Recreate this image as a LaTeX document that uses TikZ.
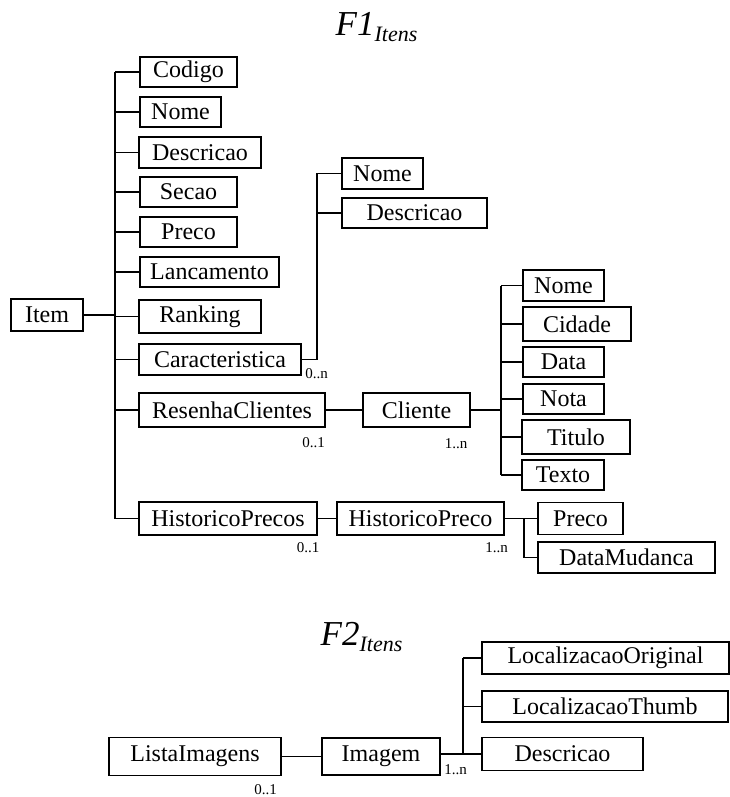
\documentclass[tikz,border=0pt]{standalone}
\usepackage{fontspec}
\setmainfont{Liberation Serif}
\begin{document}
\begin{tikzpicture}[x=1pt,y=-1pt,
  box/.style={draw, line width=1.5pt, inner sep=0pt, font=\fontsize{24}{28}\selectfont},
  card/.style={inner sep=0pt, font=\fontsize{15}{17}\selectfont},
  link/.style={line width=1.5pt},
  title/.style={inner sep=0pt, anchor=base, font=\fontsize{35}{40}\selectfont\itshape}]
\useasboundingbox (0,0) rectangle (730,797);

% name, centre x, centre y, width, height, text
\newcommand\attrbox[6]{\node[box, minimum width=#4pt, minimum height=#5pt] (#1) at (#2,#3) {#6};}

% ---------- F1 ----------
\node[title] (f1) at (376.5,36) {F1\raisebox{-6pt}{\fontsize{22}{24}\selectfont Itens}};

\attrbox{item}{47}{315}{72}{32}{Item}
\attrbox{codigo}{188.5}{72}{97}{30}{Codigo}
\attrbox{nome}{180.5}{112}{81}{30}{Nome}
\attrbox{descr}{200}{152.5}{122}{31}{Descricao}
\attrbox{secao}{188.5}{192}{97}{30}{Secao}
\attrbox{preco}{188.5}{232}{97}{30}{Preco}
\attrbox{lanc}{209.5}{272}{139}{30}{Lancamento}
\attrbox{rank}{200}{316.5}{122}{33}{Ranking}
\attrbox{carac}{220}{359.5}{162}{31}{Caracteristica}
\attrbox{resenha}{232}{410}{186}{34}{ResenhaClientes}
\attrbox{histps}{228}{518.5}{178}{33}{HistoricoPrecos}

\attrbox{cnome}{382.5}{173.5}{81}{31}{Nome}
\attrbox{cdescr}{414.5}{213}{145}{30}{Descricao}

\attrbox{cliente}{416.5}{410}{107}{34}{Cliente}
\attrbox{rnome}{563.5}{285.5}{81}{31}{Nome}
\attrbox{cidade}{577}{324}{108}{34}{Cidade}
\attrbox{data}{563.5}{362}{81}{30}{Data}
\attrbox{nota}{563.5}{399}{81}{30}{Nota}
\attrbox{titulo}{576}{437}{108}{34}{Titulo}
\attrbox{texto}{563}{475}{82}{30}{Texto}

\attrbox{histp}{420.5}{518.5}{167}{33}{HistoricoPreco}
\attrbox{hpreco}{580.5}{518.5}{85}{32}{Preco}
\attrbox{hdata}{626.5}{557.5}{177}{31}{DataMudanca}

% bus lines
\coordinate (busA) at (115,0);
\coordinate (busC) at (317,0);
\coordinate (busR) at (501,0);
\coordinate (busH) at (524,0);

\draw[link] (busA |- codigo) -- (busA |- histps);
\draw[link] (item.east) -- (item.east -| busA);
\foreach \n in {codigo,nome,descr,secao,preco,lanc,rank,carac,resenha,histps}
  \draw[link] (\n.west -| busA) -- (\n.west);

\draw[link] (carac.east) -- (carac.east -| busC) -- (busC |- cnome) -- (cnome.west);
\draw[link] (busC |- cdescr) -- (cdescr.west);

\draw[link] (resenha.east) -- (cliente.west);
\draw[link] (cliente.east) -- (cliente.east -| busR);
\draw[link] (busR |- rnome) -- (busR |- texto);
\foreach \n in {rnome,cidade,data,nota,titulo,texto}
  \draw[link] (\n.west -| busR) -- (\n.west);

\draw[link] (histps.east) -- (histp.west);
\draw[link] (histp.east) -- (hpreco.west);
\draw[link] (histp.east -| busH) -- (busH |- hdata) -- (hdata.west);

% cardinalities
\node[card] (k1) at (316.5,374) {0..n};
\node[card] (k2) at (313.5,443) {0..1};
\node[card] (k3) at (456,444) {1..n};
\node[card] (k4) at (308,548) {0..1};
\node[card] (k5) at (496.5,548) {1..n};

% ---------- F2 ----------
\node[title] (f2) at (361.5,645) {F2\raisebox{-6pt}{\fontsize{22}{24}\selectfont Itens}};

\attrbox{lista}{195}{756.5}{172}{38}{ListaImagens}
\attrbox{imagem}{381}{756.5}{118}{37}{Imagem}
\attrbox{locorig}{605.5}{658}{247}{32}{LocalizacaoOriginal}
\attrbox{locthumb}{605}{706.5}{246}{31}{LocalizacaoThumb}
\attrbox{idescr}{562.5}{754}{161}{33}{Descricao}

\coordinate (busI) at (463,0);
\draw[link] (lista.east) -- (imagem.west);
\draw[link] (imagem.east |- idescr.west) -- (idescr.west);
\draw[link] (busI |- locorig) -- (busI |- idescr);
\draw[link] (busI |- locorig) -- (locorig.west);
\draw[link] (busI |- locthumb) -- (locthumb.west);

\node[card] (k6) at (265.5,790) {0..1};
\node[card] (k7) at (455.5,770) {1..n};
\end{tikzpicture}
\end{document}
